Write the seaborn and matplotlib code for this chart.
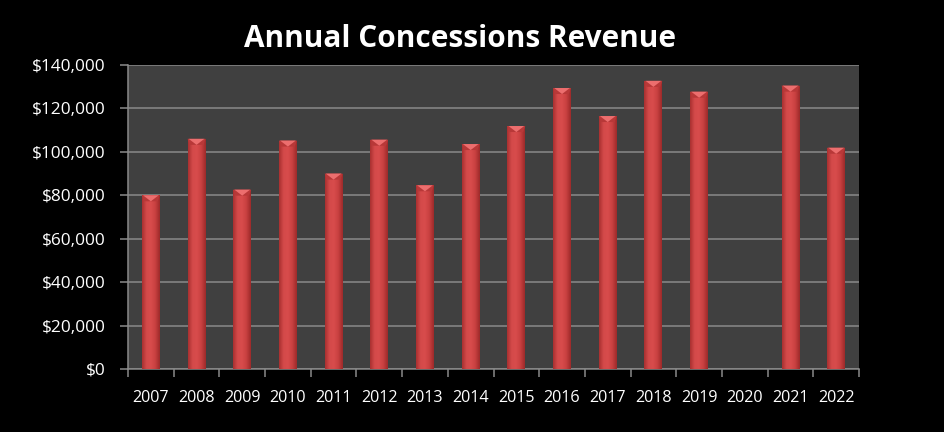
import numpy as np
import pandas as pd
import matplotlib
matplotlib.use("Agg")
import matplotlib.pyplot as plt
import seaborn as sns
from matplotlib.ticker import StrMethodFormatter, FixedLocator, NullFormatter
from matplotlib.colors import LinearSegmentedColormap
from matplotlib.patches import Polygon

# Annual concessions revenue (USD); no sales in 2020
years = ["2007", "2008", "2009", "2010", "2011", "2012", "2013", "2014",
         "2015", "2016", "2017", "2018", "2019", "2020", "2021", "2022"]
revenue = [80000, 106000, 82600, 105200, 90000, 105600, 84600, 103600,
           111900, 129400, 116500, 132700, 127700, 0, 130500, 101900]
y_ticks = [0, 20000, 40000, 60000, 80000, 100000, 120000, 140000]

df = pd.DataFrame({"year": years, "revenue": revenue})

sns.set_theme(style="dark")
plt.rcParams["font.family"] = ["Open Sans", "DejaVu Sans"]

fig = plt.figure(figsize=(9.44, 4.32), dpi=100, facecolor="black")
ax = fig.add_axes([128 / 944, 63 / 432, 731 / 944, 304 / 432])
ax.set_facecolor("#404040")

sns.barplot(data=df, x="year", y="revenue", color="#d04444", width=0.39,
            saturation=1, linewidth=0, edgecolor="none", ax=ax, zorder=3)

ax.set_ylim(0, 140000)
ax.set_xlim(-0.5, len(years) - 0.5)
ax.set_xlabel("")
ax.set_ylabel("")

# grid and axis lines
ax.yaxis.set_major_locator(FixedLocator(y_ticks))
ax.yaxis.set_major_formatter(StrMethodFormatter("${x:,.0f}"))
ax.grid(axis="y", color="#8a8a8a", linewidth=1.1, zorder=1)
ax.grid(axis="x", visible=False)
ax.set_axisbelow(True)
for side in ("top", "right"):
    ax.spines[side].set_visible(False)
for side in ("left", "bottom"):
    ax.spines[side].set_color("#8a8a8a")
    ax.spines[side].set_linewidth(1.1)

# tick marks sit on the category boundaries, labels at the centres
bounds = np.arange(len(years) + 1) - 0.5
ax.xaxis.set_major_locator(FixedLocator(bounds))
ax.xaxis.set_major_formatter(NullFormatter())
ax.xaxis.set_minor_locator(FixedLocator(np.arange(len(years))))
ax.set_xticklabels(years, minor=True)
ax.tick_params(axis="x", which="major", direction="out", length=6,
               width=1.1, color="#8a8a8a", bottom=True)
ax.tick_params(axis="x", which="minor", length=0, pad=15,
               labelsize=11.6, labelcolor="white", bottom=True)
ax.tick_params(axis="y", direction="out", length=6, width=1.1,
               color="#8a8a8a", left=True, pad=10,
               labelsize=12.4, labelcolor="white")

# shaded, bevelled look for each bar
shade = LinearSegmentedColormap.from_list(
    "bar_shade", ["#a83030", "#d44a4a", "#d84c4c", "#c84040", "#9c2a2a"])
grad = np.linspace(0, 1, 64).reshape(1, -1)
fig.canvas.draw()
px_per_unit = ax.transData.transform((0, 1))[1] - ax.transData.transform((0, 0))[1]
bevel = 6 / px_per_unit
for patch in list(ax.patches):
    x0, w, h = patch.get_x(), patch.get_width(), patch.get_height()
    if not np.isfinite(h) or h <= 0:
        continue
    img = ax.imshow(grad, cmap=shade, aspect="auto", zorder=3.5,
                    extent=(x0, x0 + w, 0, h), interpolation="bicubic")
    img.set_clip_path(patch)
    xc = x0 + w / 2
    ax.add_patch(Polygon([(x0, h), (x0 + w, h), (x0 + w * 0.88, h - bevel),
                          (x0 + w * 0.12, h - bevel)], closed=True,
                         facecolor="#b83838", edgecolor="none", zorder=4))
    ax.add_patch(Polygon([(x0 + w * 0.06, h), (x0 + w * 0.94, h), (xc, h - bevel)],
                         closed=True, facecolor="#ec6e6e", edgecolor="none",
                         zorder=4.2))
ax.set_xlim(-0.5, len(years) - 0.5)
ax.set_ylim(0, 140000)

fig.text(460 / 944, 1 - 47 / 432, "Annual Concessions Revenue", color="white",
         fontsize=21.4, fontweight="bold", ha="center", va="baseline")

fig.savefig("out.png", dpi=100, facecolor="black")
